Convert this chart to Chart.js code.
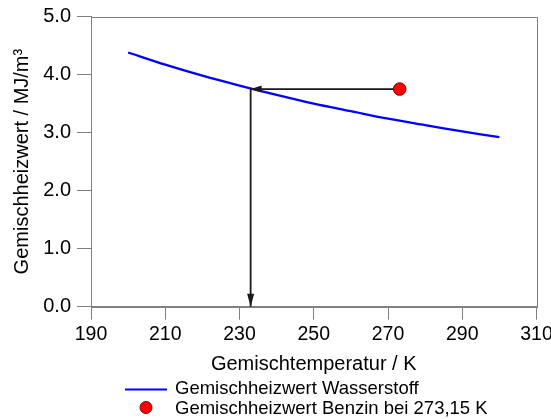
<!DOCTYPE html>
<html>
<head>
<meta charset="utf-8">
<script src="https://cdn.jsdelivr.net/npm/chart.js@4.4.1/dist/chart.umd.min.js"></script>
<style>
  html, body { margin: 0; padding: 0; background: #fff; }
  #c { display: block; }
</style>
</head>
<body>
<canvas id="c" width="551" height="419"></canvas>
<script>
// Mixture heating value of hydrogen vs. mixture temperature
const temperatures = [200, 210, 220, 230, 240, 250, 260, 270, 280, 290, 300];
const hydrogenHeatingValue = [4.38, 4.17, 3.98, 3.81, 3.65, 3.50, 3.37, 3.24, 3.13, 3.02, 2.92];

// Petrol reference point and read-out temperature
const petrolTemperature = [273.15];
const petrolHeatingValue = [3.75];
const readoutTemperature = 233;

// Axes
const xTicks = [190, 210, 230, 250, 270, 290, 310];
const yTicks = [0, 1, 2, 3, 4, 5];

const seriesNames = ['Gemischheizwert Wasserstoff', 'Gemischheizwert Benzin bei 273,15 K'];
const xTitle = 'Gemischtemperatur / K';
const yTitle = 'Gemischheizwert / MJ/m³';

const FONT = '"Liberation Sans", Arial, Helvetica, sans-serif';
const FRAME = '#808080';

const hydrogenPoints = temperatures.map((t, i) => ({ x: t, y: hydrogenHeatingValue[i] }));
const petrolPoints = petrolTemperature.map((t, i) => ({ x: t, y: petrolHeatingValue[i] }));
const readoutPath = [
  { x: petrolTemperature[0], y: petrolHeatingValue[0] },
  { x: readoutTemperature, y: petrolHeatingValue[0] },
  { x: readoutTemperature, y: yTicks[0] }
];

// Box around the plot area
const framePlugin = {
  id: 'frame',
  beforeDatasetsDraw(chart) {
    const { ctx, chartArea: a } = chart;
    ctx.save();
    ctx.strokeStyle = FRAME;
    ctx.lineWidth = 1;
    ctx.strokeRect(Math.round(a.left) + 0.5, Math.round(a.top) + 0.5,
                   Math.round(a.right - a.left), Math.round(a.bottom - a.top));
    ctx.restore();
  }
};

// Arrow heads at the ends of the read-out path
const arrowPlugin = {
  id: 'arrows',
  afterDatasetsDraw(chart) {
    const { ctx, scales } = chart;
    const xs = scales.x, ys = scales.y;
    const px = xs.getPixelForValue(readoutTemperature);
    const py = ys.getPixelForValue(petrolHeatingValue[0]);
    const pb = ys.getPixelForValue(yTicks[0]);
    ctx.save();
    ctx.fillStyle = '#1a1a1a';
    // pointing left onto the hydrogen curve
    ctx.beginPath();
    ctx.moveTo(px, py);
    ctx.lineTo(px + 11, py - 3.5);
    ctx.lineTo(px + 11, py + 3.5);
    ctx.closePath();
    ctx.fill();
    // pointing down onto the temperature axis
    ctx.beginPath();
    ctx.moveTo(px, pb);
    ctx.lineTo(px - 3.5, pb - 13);
    ctx.lineTo(px + 3.5, pb - 13);
    ctx.closePath();
    ctx.fill();
    ctx.restore();
  }
};

// Two-row legend under the axis title
const legendPlugin = {
  id: 'stackedLegend',
  afterDraw(chart) {
    const { ctx } = chart;
    const ds = chart.data.datasets;
    ctx.save();
    ctx.font = '18.5px ' + FONT;
    ctx.fillStyle = '#000';
    ctx.textBaseline = 'middle';
    ctx.textAlign = 'left';
    // line sample
    ctx.strokeStyle = ds[0].borderColor;
    ctx.lineWidth = 2;
    ctx.beginPath();
    ctx.moveTo(125, 389.5);
    ctx.lineTo(167, 389.5);
    ctx.stroke();
    ctx.fillText(ds[0].label, 175, 389);
    // point sample
    ctx.fillStyle = ds[1].backgroundColor;
    ctx.strokeStyle = ds[1].borderColor;
    ctx.lineWidth = 1;
    ctx.beginPath();
    ctx.arc(146, 407.5, 6, 0, Math.PI * 2);
    ctx.fill();
    ctx.stroke();
    ctx.fillStyle = '#000';
    ctx.fillText(ds[1].label, 175, 408.5);
    ctx.restore();
  }
};

new Chart(document.getElementById('c'), {
  type: 'line',
  data: {
    datasets: [
      {
        label: seriesNames[0],
        data: hydrogenPoints,
        borderColor: '#0000ff',
        borderWidth: 2.3,
        pointRadius: 0,
        tension: 0.3,
        fill: false,
        order: 3
      },
      {
        label: seriesNames[1],
        data: petrolPoints,
        showLine: false,
        backgroundColor: '#ff0000',
        borderColor: '#8b0000',
        borderWidth: 1,
        pointRadius: 6.3,
        order: 1
      },
      {
        label: 'readout',
        data: readoutPath,
        borderColor: '#1a1a1a',
        borderWidth: 1.8,
        pointRadius: 0,
        tension: 0,
        fill: false,
        order: 2
      }
    ]
  },
  options: {
    responsive: false,
    animation: false,
    events: [],
    layout: { padding: { left: 0, right: 14.5, top: 16.5, bottom: 40 } },
    plugins: {
      legend: { display: false },
      tooltip: { enabled: false },
      title: { display: false }
    },
    scales: {
      x: {
        type: 'linear',
        min: xTicks[0],
        max: xTicks[xTicks.length - 1],
        afterBuildTicks(scale) { scale.ticks = xTicks.map(v => ({ value: v })); },
        afterFit(scale) { scale.height = 72.3; scale.paddingRight = 0; scale.paddingLeft = 0; },
        grid: { drawOnChartArea: false, drawTicks: true, tickLength: 13, color: FRAME, lineWidth: 1 },
        border: { display: true, color: FRAME, width: 1 },
        ticks: { color: '#000', font: { family: FONT, size: 19.5 }, padding: 3, maxRotation: 0, autoSkip: false },
        title: { display: true, text: xTitle, color: '#000', font: { family: FONT, size: 20 }, padding: { top: 0, bottom: 3 } }
      },
      y: {
        type: 'linear',
        min: yTicks[0],
        max: yTicks[yTicks.length - 1],
        afterBuildTicks(scale) { scale.ticks = yTicks.map(v => ({ value: v })); },
        afterFit(scale) { scale.width = 91; scale.paddingTop = 0; scale.paddingBottom = 0; },
        grid: { drawOnChartArea: false, drawTicks: true, tickLength: 14, color: FRAME, lineWidth: 1 },
        border: { display: true, color: FRAME, width: 1 },
        ticks: { color: '#000', font: { family: FONT, size: 20 }, padding: 6, callback: v => v.toFixed(1) },
        title: { display: true, text: yTitle, color: '#000', font: { family: FONT, size: 20 }, padding: { top: 10, bottom: 0 } }
      }
    }
  },
  plugins: [framePlugin, arrowPlugin, legendPlugin]
});
</script>
</body>
</html>
